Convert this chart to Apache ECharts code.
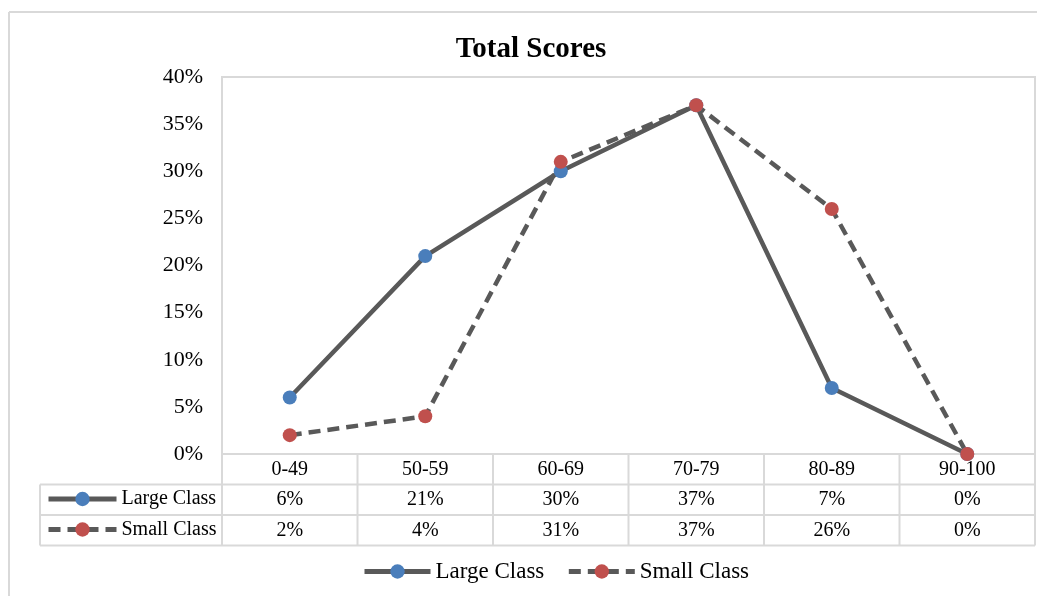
<!DOCTYPE html>
<html>
<head>
<meta charset="utf-8">
<script src="https://cdn.jsdelivr.net/npm/echarts@6/dist/echarts.min.js"></script>
<style>
html,body{margin:0;padding:0;background:#fff;}
#chart{width:1037px;height:596px;}
</style>
</head>
<body>
<div id="chart"></div>
<script>
const categories = ['0-49', '50-59', '60-69', '70-79', '80-89', '90-100'];
const largeClass = [6, 21, 30, 37, 7, 0];
const smallClass = [2, 4, 31, 37, 26, 0];
const seriesNames = ['Large Class', 'Small Class'];
const yTicks = { min: 0, max: 40, interval: 5 };

const FONT = '"Liberation Serif", "Times New Roman", serif';
const GRID_COLOR = '#d9d9d9';
const LINE_COLOR = '#595959';
const pct = v => v + '%';

const chart = echarts.init(document.getElementById('chart'), null, { renderer: 'canvas' });

const labelBase = { fontFamily: FONT, fontSize: 20, color: '#000', interval: 0 };

const option = {
  animation: false,
  backgroundColor: '#fff',
  title: {
    text: 'Total Scores',
    left: 526,
    textAlign: 'center',
    top: 30,
    textStyle: { fontFamily: FONT, fontSize: 29, fontWeight: 'bold', color: '#000' }
  },
  grid: {
    left: 222, right: 2, top: 77, bottom: 142,
    show: true, borderColor: GRID_COLOR, borderWidth: 2, containLabel: false
  },
  legend: [
    {
      data: seriesNames,
      left: 357, top: 555,
      itemWidth: 66, itemHeight: 18, itemGap: 22,
      lineStyle: { width: 5 },
      textStyle: { fontFamily: FONT, fontSize: 23, color: '#000' }
    },
    {
      data: seriesNames,
      orient: 'vertical',
      left: 41, top: 484,
      itemWidth: 68, itemHeight: 18, itemGap: 10.5,
      lineStyle: { width: 5 },
      textStyle: { fontFamily: FONT, fontSize: 20, color: '#000' }
    }
  ],
  xAxis: [
    {
      type: 'category', data: categories, position: 'bottom', boundaryGap: true,
      axisLine: { show: false }, axisTick: { show: false },
      axisLabel: Object.assign({ margin: 6 }, labelBase)
    },
    {
      type: 'category', data: largeClass.map(pct), position: 'bottom', offset: 30,
      axisLine: { show: false }, axisTick: { show: false },
      axisLabel: Object.assign({ margin: 6 }, labelBase)
    },
    {
      type: 'category', data: smallClass.map(pct), position: 'bottom', offset: 61,
      axisLine: { show: false }, axisTick: { show: false },
      axisLabel: Object.assign({ margin: 6 }, labelBase)
    }
  ],
  yAxis: {
    type: 'value', min: yTicks.min, max: yTicks.max, interval: yTicks.interval,
    axisLine: { show: false }, axisTick: { show: false }, splitLine: { show: false },
    axisLabel: { formatter: '{value}%', fontFamily: FONT, fontSize: 22, color: '#000', margin: 19 }
  },
  series: [
    {
      name: seriesNames[0], type: 'line', data: largeClass,
      symbol: 'circle', symbolSize: 14,
      lineStyle: { color: LINE_COLOR, width: 4.5 },
      itemStyle: { color: '#4a7ebb' },
      emphasis: { disabled: true }
    },
    {
      name: seriesNames[1], type: 'line', data: smallClass,
      symbol: 'circle', symbolSize: 14,
      lineStyle: { color: LINE_COLOR, width: 4.5, type: [12, 7] },
      itemStyle: { color: '#c0504d' },
      emphasis: { disabled: true }
    }
  ]
};
chart.setOption(option);

// Table grid lines derived from the axis scale
const centers = categories.map((c, i) => chart.convertToPixel({ xAxisIndex: 0 }, i));
const band = centers[1] - centers[0];
const left = centers[0] - band / 2;
const right = centers[centers.length - 1] + band / 2;
const yBase = chart.convertToPixel({ yAxisIndex: 0 }, 0);
const rowH = 30.5;
const tableLeft = 40;
const lineStyle = { stroke: GRID_COLOR, lineWidth: 2 };
const graphics = [];
const hline = (x1, x2, y) => graphics.push({ type: 'line', shape: { x1, y1: y, x2, y2: y }, style: lineStyle, silent: true });
const vline = (x, y1, y2) => graphics.push({ type: 'line', shape: { x1: x, y1, x2: x, y2 }, style: lineStyle, silent: true });
for (let r = 1; r <= 3; r++) hline(tableLeft, right, yBase + rowH * r);
for (let i = 0; i <= categories.length; i++) vline(left + band * i, yBase, yBase + rowH * 3);
vline(tableLeft, yBase + rowH, yBase + rowH * 3);
// outer chart frame
hline(9, 1037, 12);
vline(9, 12, 596);
chart.setOption({ graphic: graphics });
</script>
</body>
</html>
